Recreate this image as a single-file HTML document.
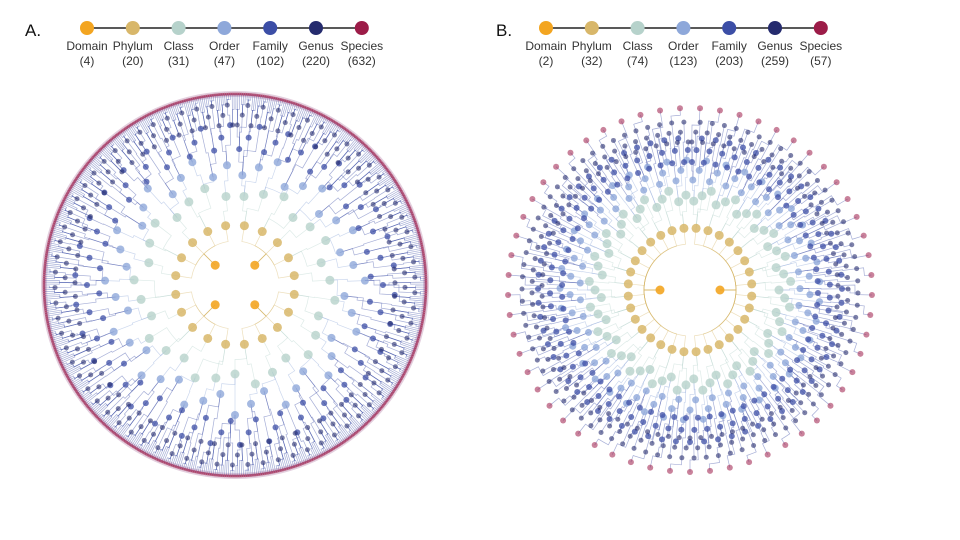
<!DOCTYPE html>
<html><head><meta charset="utf-8">
<style>
html,body{margin:0;padding:0;background:#fff;}
svg{display:block;font-family:"Liberation Sans",sans-serif;}
</style></head>
<body>
<svg id="fig" width="960" height="540" viewBox="0 0 960 540">
  <g id="legendA"></g>
  <g id="legendB"></g>
  <g id="treeA"></g>
  <g id="treeB"></g>
</svg>
<script>
const levels = ["Domain","Phylum","Class","Order","Family","Genus","Species"];
const colors = ["#f3a521","#d8b76a","#b6d2cb","#8ea8da","#3c4ea6","#252b6e","#9c1c48"];
const countsA = [4,20,31,47,102,220,632];
const countsB = [2,32,74,123,203,259,57];
const NS = "http://www.w3.org/2000/svg";
function mk(tag, attrs, parent){
  const e = document.createElementNS(NS, tag);
  for (const k in attrs) e.setAttribute(k, attrs[k]);
  parent.appendChild(e);
  return e;
}
function legend(g, x0, dx, counts, letter, lx){
  const t = mk("text",{x:lx,y:36,"font-size":17,fill:"#111"},g);
  t.textContent = letter;
  
  
  const ln = mk("line",{x1:x0,y1:28,x2:x0+dx*6,y2:28,stroke:"#222","stroke-width":1.6},g);
  
  
  levels.forEach((lv,i)=>{
    const cx = x0+dx*i;
    const c = mk("circle",{cx:cx,cy:28,r:7,fill:colors[i]},g);
    
    
    const a = mk("text",{x:cx,y:50,"font-size":12,"text-anchor":"middle",fill:"#333"},g);
    a.textContent = lv;
    
    
    const b = mk("text",{x:cx,y:65,"font-size":12,"text-anchor":"middle",fill:"#333"},g);
    b.textContent = "("+counts[i]+")";
    
    
  });
}
legend(document.getElementById("legendA"), 87, 45.8, countsA, "A.", 25);
legend(document.getElementById("legendB"), 546, 45.8, countsB, "B.", 496);

function tree(g, cx, cy, radii, counts, nodeR, outerRing){
  const pos = (r,a)=>[cx+r*Math.cos(a), cy+r*Math.sin(a)];
  const ang = counts.map(n=>Array.from({length:n},(_,i)=>2*Math.PI*(i+0.5)/n - Math.PI/2));
  const stag = [0,0,6,10,12,10,0];
  const rad = (l,i)=> radii[l] + ((i%3)-1)*stag[l];
  if (outerRing){
    const ring = mk("circle",{cx:cx,cy:cy,r:radii[6],fill:"none",stroke:"#dcc3d6","stroke-width":6,opacity:0.8},g);
    
    
  }
  for (let l=1;l<counts.length;l++){
    const np = counts[l-1], n = counts[l];
    for (let i=0;i<n;i++){
      const p = Math.min(np-1, Math.floor(i*np/n));
      const rp = rad(l-1,p), rc = rad(l,i);
      const rm = rp + (rc-rp)*0.5;
      const ap = ang[l-1][p], ac = ang[l][i];
      const [x0,y0]=pos(rp,ap),[x1,y1]=pos(rm,ap),[x2,y2]=pos(rm,ac),[x3,y3]=pos(rc,ac);
      const sweep = ac>ap?1:0;
      const path = mk("path",{d:`M${x0},${y0}L${x1},${y1}A${Math.abs(rm)},${Math.abs(rm)} 0 0 ${sweep} ${x2},${y2}L${x3},${y3}`,fill:"none",stroke:colors[Math.min(l,4)],"stroke-width":0.7,opacity:0.45},g);
      
      
    }
  }
  const op = [0.9,0.85,0.8,0.8,0.75,0.6,0.55];
  for (let l=0;l<counts.length;l++){
    ang[l].forEach((a,i)=>{
      const [x,y]=pos(rad(l,i),a);
      const c = mk("circle",{cx:x,cy:y,r:nodeR[l],fill:colors[l],opacity:op[l]},g);
      
      
    });
  }
}
tree(document.getElementById("treeA"), 235, 285, [28,60,95,120,148,170,191], countsA, [4.5,4.5,4.5,4,3,2.5,1.5], true);
tree(document.getElementById("treeB"), 690, 290, [30,62,95,120,140,158,182], countsB, [4.5,4.5,4.5,3.5,3,2.5,3], false);
</script>
</body></html>
